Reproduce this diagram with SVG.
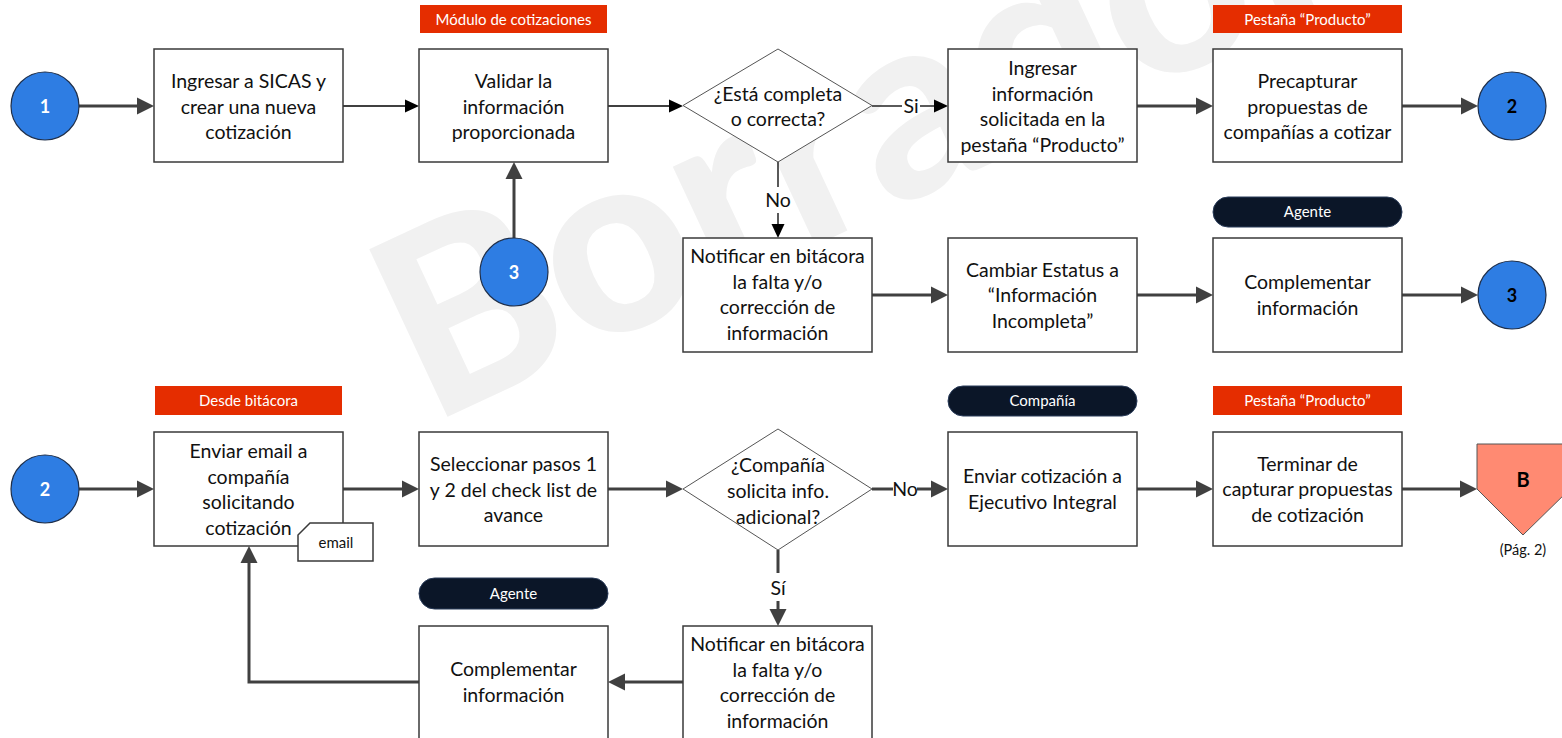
<svg xmlns="http://www.w3.org/2000/svg" width="1562" height="738" viewBox="0 0 1562 738">
<style>
.box{fill:#fff;stroke:#3a3a3a;stroke-width:1.5}
.dia{fill:#fff;stroke:#555;stroke-width:1}
.t{font-family:Lato,"Liberation Sans",sans-serif;font-size:19.5px;fill:#111;text-anchor:middle}
.tag{fill:#e52d00}
.pill{fill:#0b1628;stroke:#2a3c5a;stroke-width:1}
.tt{font-family:Lato,"Liberation Sans",sans-serif;font-size:15px;fill:#fff;text-anchor:middle}
.circ{fill:#2e7de3;stroke:#1f2f4a;stroke-width:1.2}
.cn{font-family:Lato,"Liberation Sans",sans-serif;font-size:18px;font-weight:bold;text-anchor:middle}
.thick{stroke:#404040;stroke-width:3;fill:none}
.thin{stroke:#000;stroke-width:1.3;fill:none}
.lbl{font-family:Lato,"Liberation Sans",sans-serif;font-size:19.5px;fill:#111;text-anchor:middle}
.wm{font-family:Lato,"Liberation Sans",sans-serif;font-size:255px;font-weight:900;fill:#f1f1f1}
</style>
<defs>
<marker id="ak" markerUnits="userSpaceOnUse" markerWidth="18" markerHeight="18" refX="7" refY="9" orient="auto"><path d="M0,0.5 L17,9 L0,17.5 z" fill="#404040"/></marker>
<marker id="an" markerUnits="userSpaceOnUse" markerWidth="15" markerHeight="14" refX="6" refY="7" orient="auto"><path d="M0,0.5 L14,7 L0,13.5 z" fill="#000"/></marker>
</defs>
<rect width="1562" height="738" fill="#fff"/>
<text class="wm" transform="translate(430,425) rotate(-25)">Borrador</text>

<g id="connectors">
<line class="thick" x1="79" y1="106" x2="144" y2="106" marker-end="url(#ak)"/>
<line class="thin" x1="343" y1="106" x2="411" y2="106" marker-end="url(#an)"/>
<line class="thin" x1="608" y1="106" x2="675" y2="106" marker-end="url(#an)"/>
<line class="thin" x1="872" y1="106" x2="902" y2="106"/>
<line class="thin" x1="920" y1="106" x2="940" y2="106" marker-end="url(#an)"/>
<text class="lbl" x="911" y="113">Si</text>
<line class="thick" x1="1137" y1="106" x2="1203" y2="106" marker-end="url(#ak)"/>
<line class="thick" x1="1402" y1="106" x2="1468" y2="106" marker-end="url(#ak)"/>
<line class="thick" x1="514" y1="238" x2="514" y2="172" marker-end="url(#ak)"/>
<line class="thin" x1="778" y1="162" x2="778" y2="187"/>
<line class="thin" x1="778" y1="213" x2="778" y2="230" marker-end="url(#an)"/>
<text class="lbl" x="778" y="207">No</text>
<line class="thick" x1="872" y1="295" x2="938" y2="295" marker-end="url(#ak)"/>
<line class="thick" x1="1137" y1="295" x2="1203" y2="295" marker-end="url(#ak)"/>
<line class="thick" x1="1402" y1="295" x2="1468" y2="295" marker-end="url(#ak)"/>
<line class="thick" x1="79" y1="489" x2="144" y2="489" marker-end="url(#ak)"/>
<line class="thick" x1="343" y1="489" x2="409" y2="489" marker-end="url(#ak)"/>
<line class="thick" x1="608" y1="489" x2="673" y2="489" marker-end="url(#ak)"/>
<line class="thick" x1="872" y1="489" x2="893" y2="489"/>
<line class="thick" x1="917" y1="489" x2="938" y2="489" marker-end="url(#ak)"/>
<text class="lbl" x="905" y="496">No</text>
<line class="thick" x1="1137" y1="489" x2="1203" y2="489" marker-end="url(#ak)"/>
<line class="thick" x1="1402" y1="489" x2="1467" y2="489" marker-end="url(#ak)"/>
<line class="thick" x1="778" y1="550" x2="778" y2="573"/>
<line class="thick" x1="778" y1="601" x2="778" y2="616" marker-end="url(#ak)"/>
<text class="lbl" x="778" y="595">Sí</text>
<line class="thick" x1="683" y1="682" x2="618" y2="682" marker-end="url(#ak)"/>
<polyline class="thick" points="419,682 249,682 249,556" marker-end="url(#ak)"/>
</g>

<g id="c1"><circle class="circ" cx="45" cy="106" r="34"/><text class="cn" x="45" y="112.5" fill="#fff">1</text></g>
<g id="n1"><rect class="box" x="154" y="49" width="189" height="113"/>
<text class="t"><tspan x="248.5" y="88">Ingresar a SICAS y</tspan><tspan x="248.5" y="113.5">crear una nueva</tspan><tspan x="248.5" y="139">cotización</tspan></text></g>
<g id="n2"><rect class="tag" x="420" y="5" width="187" height="28"/><text class="tt" x="513.5" y="24.5">Módulo de cotizaciones</text>
<rect class="box" x="419" y="49" width="189" height="113"/>
<text class="t"><tspan x="513.5" y="88">Validar la</tspan><tspan x="513.5" y="113.5">información</tspan><tspan x="513.5" y="139">proporcionada</tspan></text></g>
<g id="d1"><polygon class="dia" points="778,49 872,105.5 778,162 683,105.5"/>
<text class="t"><tspan x="778" y="101">¿Está completa</tspan><tspan x="778" y="125.5">o correcta?</tspan></text></g>
<g id="n3"><rect class="box" x="948" y="49" width="189" height="113"/>
<text class="t"><tspan x="1042.5" y="75">Ingresar</tspan><tspan x="1042.5" y="100.5">información</tspan><tspan x="1042.5" y="126">solicitada en la</tspan><tspan x="1042.5" y="151.5">pestaña “Producto”</tspan></text></g>
<g id="n4"><rect class="tag" x="1213" y="5" width="189" height="28"/><text class="tt" x="1307.5" y="24.5">Pestaña “Producto”</text>
<rect class="box" x="1213" y="49" width="189" height="113"/>
<text class="t"><tspan x="1307.5" y="88">Precapturar</tspan><tspan x="1307.5" y="113.5">propuestas de</tspan><tspan x="1307.5" y="139">compañías a cotizar</tspan></text></g>
<g id="c2"><circle class="circ" cx="1512" cy="106" r="34"/><text class="cn" x="1512" y="112.5" fill="#000">2</text></g>

<g id="c3"><circle class="circ" cx="514" cy="272" r="34"/><text class="cn" x="514" y="278.5" fill="#fff">3</text></g>
<g id="n5"><rect class="box" x="683" y="238" width="189" height="114"/>
<text class="t"><tspan x="777.5" y="263">Notificar en bitácora</tspan><tspan x="777.5" y="288.5">la falta y/o</tspan><tspan x="777.5" y="314">corrección de</tspan><tspan x="777.5" y="339.5">información</tspan></text></g>
<g id="n6"><rect class="box" x="948" y="238" width="189" height="114"/>
<text class="t"><tspan x="1042.5" y="276.5">Cambiar Estatus a</tspan><tspan x="1042.5" y="302">“Información</tspan><tspan x="1042.5" y="327.5">Incompleta”</tspan></text></g>
<g id="n7"><rect class="pill" x="1213" y="197" width="189" height="30" rx="15"/><text class="tt" x="1307.5" y="217">Agente</text>
<rect class="box" x="1213" y="238" width="189" height="114"/>
<text class="t"><tspan x="1307.5" y="289">Complementar</tspan><tspan x="1307.5" y="314.5">información</tspan></text></g>
<g id="c3b"><circle class="circ" cx="1512" cy="295" r="34"/><text class="cn" x="1512" y="301.5" fill="#000">3</text></g>

<g id="c2b"><circle class="circ" cx="45" cy="489" r="34"/><text class="cn" x="45" y="495.5" fill="#fff">2</text></g>
<g id="n8"><rect class="tag" x="155" y="386" width="187" height="29"/><text class="tt" x="248.5" y="405.5">Desde bitácora</text>
<rect class="box" x="154" y="432" width="189" height="114"/>
<text class="t"><tspan x="248.5" y="458">Enviar email a</tspan><tspan x="248.5" y="483.5">compañía</tspan><tspan x="248.5" y="509">solicitando</tspan><tspan x="248.5" y="534.5">cotización</tspan></text></g>
<g id="email"><polygon class="box" points="310,523 373,523 373,561 298,561 298,535"/><text class="t" x="336" y="547.5" style="font-size:15px">email</text></g>
<g id="n9"><rect class="box" x="419" y="432" width="189" height="114"/>
<text class="t"><tspan x="513.5" y="471">Seleccionar pasos 1</tspan><tspan x="513.5" y="496.5">y 2 del check list de</tspan><tspan x="513.5" y="522">avance</tspan></text></g>
<g id="d2"><polygon class="dia" points="778,429 872,489 778,550 683,489"/>
<text class="t"><tspan x="778" y="472">¿Compañía</tspan><tspan x="778" y="498">solicita info.</tspan><tspan x="778" y="524">adicional?</tspan></text></g>
<g id="n10"><rect class="pill" x="948" y="386" width="189" height="30" rx="15"/><text class="tt" x="1042.5" y="406">Compañía</text>
<rect class="box" x="948" y="432" width="189" height="114"/>
<text class="t"><tspan x="1042.5" y="483">Enviar cotización a</tspan><tspan x="1042.5" y="508.5">Ejecutivo Integral</tspan></text></g>
<g id="n11"><rect class="tag" x="1213" y="386" width="189" height="29"/><text class="tt" x="1307.5" y="405.5">Pestaña “Producto”</text>
<rect class="box" x="1213" y="432" width="189" height="114"/>
<text class="t"><tspan x="1307.5" y="470.5">Terminar de</tspan><tspan x="1307.5" y="496">capturar propuestas</tspan><tspan x="1307.5" y="521.5">de cotización</tspan></text></g>
<g id="B"><polygon points="1477,444 1570,444 1570,489 1523,535 1477,489" fill="#ff8a72" stroke="#555" stroke-width="1"/>
<text class="cn" x="1523" y="487" fill="#000" style="font-size:20px">B</text>
<text class="t" x="1523" y="555" style="font-size:14.5px">(Pág. 2)</text></g>

<g id="n13"><rect class="pill" x="419" y="578" width="189" height="31" rx="15.5"/><text class="tt" x="513.5" y="598.5">Agente</text>
<rect class="box" x="419" y="626" width="189" height="114"/>
<text class="t"><tspan x="513.5" y="676">Complementar</tspan><tspan x="513.5" y="701.5">información</tspan></text></g>
<g id="n12"><rect class="box" x="683" y="626" width="189" height="114"/>
<text class="t"><tspan x="777.5" y="651">Notificar en bitácora</tspan><tspan x="777.5" y="676.5">la falta y/o</tspan><tspan x="777.5" y="702">corrección de</tspan><tspan x="777.5" y="727.5">información</tspan></text></g>
</svg>
